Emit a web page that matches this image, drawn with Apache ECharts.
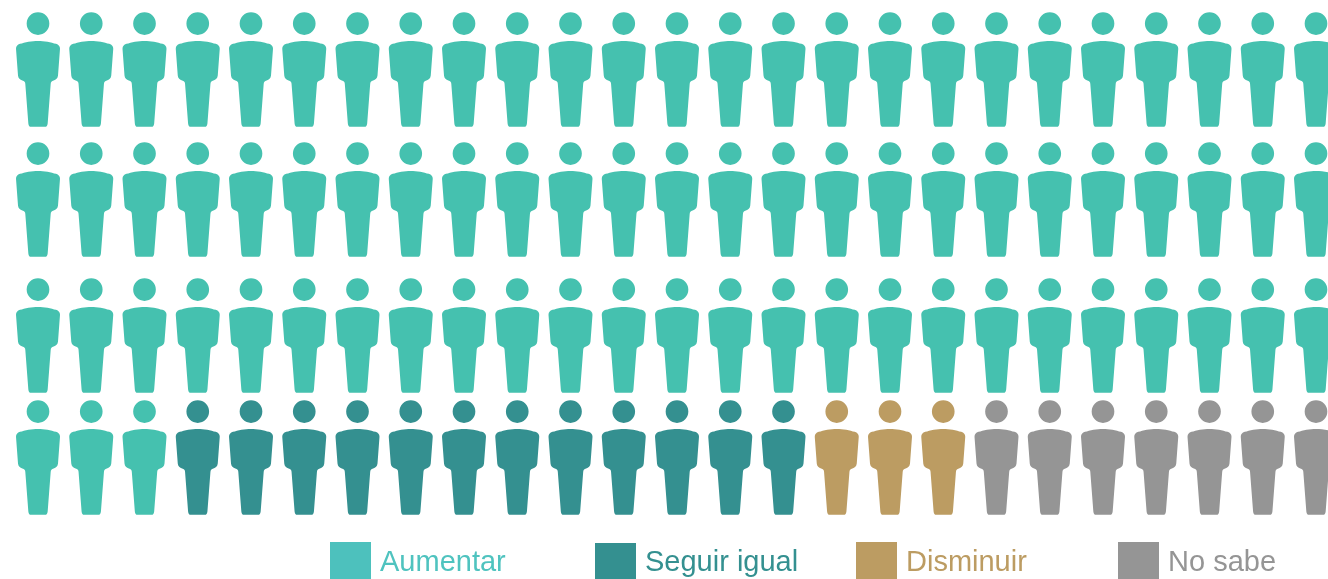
<!DOCTYPE html>
<html>
<head>
<meta charset="utf-8">
<style>html,body{margin:0;padding:0;background:#fff;overflow:hidden}#c{width:1328px;height:579px}</style>
<script src="https://cdn.jsdelivr.net/npm/echarts@6/dist/echarts.min.js"></script>
</head>
<body>
<div id="c"></div>
<script>
// Data: one hundred people, filled left to right, top to bottom
const categories = ['Aumentar', 'Seguir igual', 'Disminuir', 'No sabe'];
const people = [78, 12, 3, 7];
const peoplePerRow = 25;
const rowCount = 4;

// Styles and layout
const markColors = ['#45c1af', '#349090', '#bc9c62', '#959595'];
const legendSwatchColors = ['#4dc1bd', '#349090', '#bc9c62', '#959595'];
const legendTextColors = ['#4fc3bf', '#349090', '#bc9c62', '#959595'];
const legendLeft = [330, 595, 856, 1118];
const legendTop = [542, 543, 542, 542];
const legendSwatchHeight = [41, 39, 41, 41];
const rowCentres = [69.5, 199.5, 335.5, 457.5];

const personPath = 'path://M114 122C96 122 74 126 60 131C52 134 48 139 48 146L54 226C55 235 60 239 67 241C73 243 76 246 76 252L85 370C86 377 88 380 93 380L135 380C140 380 142 377 143 370L152 252C152 246 155 243 161 241C168 239 173 235 174 226L180 146C180 139 176 134 168 131C154 126 132 122 114 122ZM114 36A34 34 0 1 1 114 104A34 34 0 1 1 114 36Z';

const grids = [], xAxes = [], yAxes = [], series = [];
for (let r = 0; r < rowCount; r++) {
  grids.push({ left: 38, width: 1278, top: rowCentres[r] - 20, height: 40 });
  xAxes.push({ type: 'value', gridIndex: r, min: 0, max: peoplePerRow - 1, show: false });
  yAxes.push({ type: 'value', gridIndex: r, min: -1, max: 1, show: false });
}

let cursor = 0;
categories.forEach((name, c) => {
  const byRow = Array.from({ length: rowCount }, () => []);
  for (let i = 0; i < people[c]; i++, cursor++) {
    byRow[Math.floor(cursor / peoplePerRow)].push([cursor % peoplePerRow, 0]);
  }
  byRow.forEach((data, r) => {
    if (!data.length) return;
    series.push({
      type: 'scatter', name, xAxisIndex: r, yAxisIndex: r, data, clip: false,
      symbol: personPath, symbolSize: [44, 114.5], silent: true,
      itemStyle: { color: markColors[c], opacity: 1 }
    });
  });
});

const legends = categories.map((name, c) => ({
  left: legendLeft[c], top: legendTop[c], padding: 0, orient: 'horizontal',
  itemWidth: 41, itemHeight: legendSwatchHeight[c], selectedMode: false,
  data: [{ name, icon: 'rect', itemStyle: { color: legendSwatchColors[c] } }],
  textStyle: { color: legendTextColors[c], fontSize: 29, fontFamily: '"Liberation Sans", Helvetica, Arial, sans-serif', padding: [0, 0, 0, 4] }
}));

const chart = echarts.init(document.getElementById('c'), null, { renderer: 'canvas' });
chart.setOption({
  animation: false, backgroundColor: '#ffffff',
  grid: grids, xAxis: xAxes, yAxis: yAxes, series, legend: legends, tooltip: { show: false }
});
</script>
</body>
</html>
